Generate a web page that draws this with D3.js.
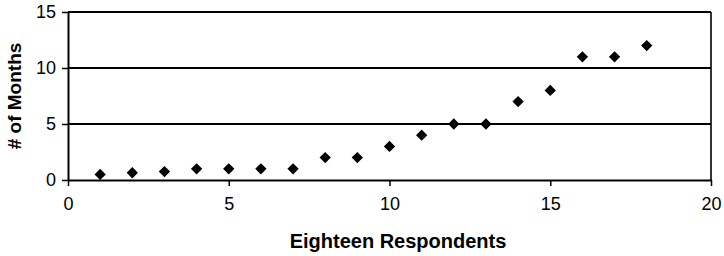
<!DOCTYPE html>
<html>
<head>
<meta charset="utf-8">
<script src="https://cdn.jsdelivr.net/npm/d3@7"></script>
<style>
  html, body { margin: 0; padding: 0; background: #fff; }
  svg { display: block; }
  text { font-family: "Liberation Sans", Arial, Helvetica, sans-serif; fill: #000; }
</style>
</head>
<body>
<svg id="chart" width="724" height="256"></svg>
<script>
const respondents = [1, 2, 3, 4, 5, 6, 7, 8, 9, 10, 11, 12, 13, 14, 15, 16, 17, 18];
const months = [0.5, 0.65, 0.75, 1, 1, 1, 1, 2, 2, 3, 4, 5, 5, 7, 8, 11, 11, 12];
const xTicks = [0, 5, 10, 15, 20];
const yTicks = [0, 5, 10, 15];
const xTitle = "Eighteen Respondents";
const yTitle = "# of Months";

const svg = d3.select("#chart");
const mLeft = 68, mRight = 711, mTop = 12, mBottom = 180;

const x = d3.scaleLinear().domain([0, 20]).range([mLeft, mRight]);
const y = d3.scaleLinear().domain([0, 15]).range([mBottom, mTop]);

// gridlines
svg.append("g")
  .selectAll("line")
  .data(yTicks.filter(d => d > 0))
  .join("line")
  .attr("x1", mLeft).attr("x2", mRight)
  .attr("y1", d => y(d)).attr("y2", d => y(d))
  .attr("stroke", "#000").attr("stroke-width", 2);

// right border
svg.append("line")
  .attr("x1", mRight).attr("x2", mRight)
  .attr("y1", y(15)).attr("y2", y(0))
  .attr("stroke", "#000").attr("stroke-width", 1.6);

// x axis
const xAxis = svg.append("g")
  .attr("transform", `translate(0,${mBottom})`)
  .call(d3.axisBottom(x).tickValues(xTicks).tickSize(6).tickPadding(11).tickSizeOuter(0));
xAxis.select(".domain").attr("stroke-width", 2);
xAxis.selectAll(".tick line").attr("stroke-width", 1.5);
xAxis.selectAll("text").style("font-size", "18px");

// y axis
const yAxis = svg.append("g")
  .attr("transform", `translate(${mLeft},0)`)
  .call(d3.axisLeft(y).tickValues(yTicks).tickSize(6).tickPadding(6).tickSizeOuter(0));
yAxis.select(".domain").attr("stroke-width", 2);
yAxis.selectAll(".tick line").attr("stroke-width", 1.5);
yAxis.selectAll("text").style("font-size", "18px");

// points (diamonds)
const sym = d3.symbol().type(d3.symbolSquare).size(64);
svg.append("g")
  .selectAll("path")
  .data(respondents.map((r, i) => ({ r, m: months[i] })))
  .join("path")
  .attr("d", sym)
  .attr("transform", d => `translate(${x(d.r)},${y(d.m)}) rotate(45)`)
  .attr("fill", "#000");

// titles
svg.append("text")
  .attr("x", 398).attr("y", 248)
  .attr("text-anchor", "middle")
  .style("font-size", "20px").style("font-weight", "bold")
  .text(xTitle);

svg.append("text")
  .attr("transform", `translate(21,${(mTop + mBottom) / 2}) rotate(-90)`)
  .attr("text-anchor", "middle")
  .style("font-size", "19px").style("font-weight", "bold")
  .text(yTitle);
</script>
</body>
</html>
